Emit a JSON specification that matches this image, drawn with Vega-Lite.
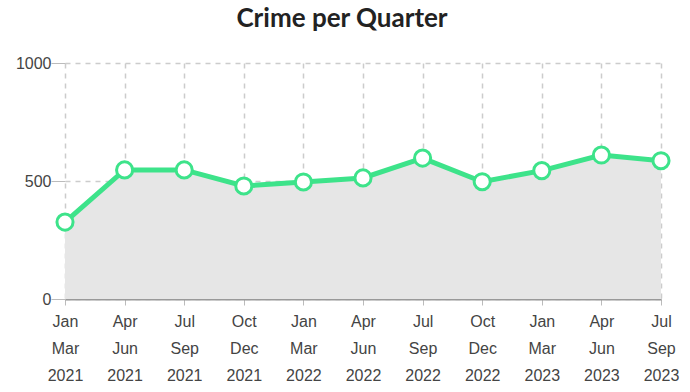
{
  "$schema": "https://vega.github.io/schema/vega-lite/v6.json",
  "autosize": "none",
  "width": 596,
  "height": 236,
  "padding": {"left": 65, "top": 63, "right": 29, "bottom": 93},
  "background": "white",
  "title": {
    "text": "Crime per Quarter",
    "font": "Lato",
    "fontSize": 26,
    "fontWeight": "bold",
    "color": "#222222",
    "anchor": "middle",
    "dx": -21,
    "offset": 23
  },
  "config": {
    "view": {"stroke": null},
    "axis": {
      "labelFont": "Liberation Sans",
      "labelFontSize": 16,
      "labelColor": "#444444",
      "gridColor": "#cccccc",
      "gridDash": [5, 5],
      "gridWidth": 1.5,
      "tickColor": "#bbbbbb",
      "title": null
    }
  },
  "data": {
    "values": [
      {"q": "Jan|Mar|2021", "v": 326},
      {"q": "Apr|Jun|2021", "v": 547},
      {"q": "Jul|Sep|2021", "v": 547},
      {"q": "Oct|Dec|2021", "v": 479},
      {"q": "Jan|Mar|2022", "v": 496},
      {"q": "Apr|Jun|2022", "v": 513},
      {"q": "Jul|Sep|2022", "v": 597},
      {"q": "Oct|Dec|2022", "v": 497},
      {"q": "Jan|Mar|2023", "v": 544},
      {"q": "Apr|Jun|2023", "v": 610},
      {"q": "Jul|Sep|2023", "v": 586}
    ]
  },
  "encoding": {
    "x": {
      "field": "q",
      "type": "ordinal",
      "sort": null,
      "scale": {"type": "point", "padding": 0},
      "axis": {
        "labelAngle": 0,
        "labelExpr": "split(datum.label, '|')",
        "labelLineHeight": 27,
        "labelPadding": 8,
        "tickSize": 6,
        "domainColor": "#999999",
        "domainWidth": 2,
        "grid": true
      }
    },
    "y": {
      "field": "v",
      "type": "quantitative",
      "scale": {"domain": [0, 1000]},
      "axis": {
        "values": [0, 500, 1000],
        "format": "d",
        "domain": false,
        "tickSize": 14,
        "labelPadding": 0,
        "grid": true
      }
    }
  },
  "layer": [
    {"mark": {"type": "area", "color": "#e6e6e6"}},
    {"mark": {"type": "line", "color": "#3de38a", "strokeWidth": 5}},
    {"mark": {"type": "point", "filled": true, "fill": "white", "stroke": "#3de38a", "strokeWidth": 3, "size": 260, "opacity": 1}}
  ]
}
